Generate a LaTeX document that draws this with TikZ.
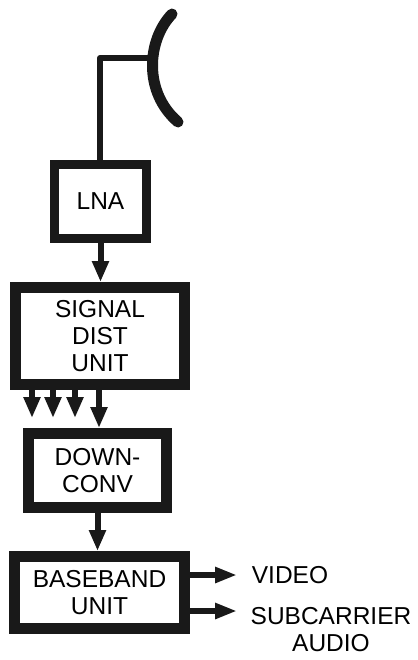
\documentclass[tikz,border=0pt]{standalone}
\usepackage{fontspec}
\setmainfont{Liberation Sans}
\usetikzlibrary{positioning, arrows.meta}

\begin{document}
\begin{tikzpicture}[
    x=1pt, y=-1pt,
    every node/.style={font=\fontsize{24.5}{27}\selectfont, align=center, inner sep=0pt},
    unit/.style={draw=black!90, line width=11pt, minimum width=#1},
    sig/.style={draw=black!90, line width=6pt, -{Triangle[length=21pt, width=16pt]}},
    outsig/.style={draw=black!90, line width=6pt, -{Triangle[length=22pt, width=15pt]}},
]
\useasboundingbox (0,0) rectangle (417,660);

% blocks
\node[unit=92pt, line width=9pt, minimum height=74pt] (lna) at (100.5,201.5) {LNA};
\node[unit=169pt, minimum height=97pt, below=39pt of lna, xshift=-0.5pt] (signal) {SIGNAL\\DIST\\UNIT};
\node[unit=138pt, minimum height=74pt, below=38pt of signal, xshift=-2.5pt] (down) {DOWN-\\CONV};
\node[unit=170pt, minimum height=72pt, below=38pt of down, xshift=2pt] (base) {BASEBAND\\UNIT};

% outputs
\node (video) at (290,575) {VIDEO};
\node (sub) at (331,630) {SUBCARRIER\\AUDIO};

% antenna
\coordinate (dishtop) at (172,14);
\coordinate (dishbot) at (178,122);
\coordinate (feed) at (150,58);
\coordinate (lnain) at (100,160);
\draw[line width=11pt, line cap=round, draw=black!90] (dishtop) .. controls (147,40) and (143,92) .. (dishbot);
\draw[line width=6pt, draw=black!90, line join=round] (lnain) -- (100,58) -- (feed);

% arrows
\draw[sig] (lna.south) -- (lna.south |- signal.north);
\draw[sig] (signal.south -| 99,0) -- (down.north -| 99,0);
\foreach \x/\name in {32/a, 53/b, 75/c} {
    \coordinate (tip\name) at (\x,418);
    \draw[sig] (signal.south -| tip\name) -- (tip\name);
}
\draw[sig] (down.south) -- (down.south |- base.north);

\coordinate (vidend) at (237,575);
\coordinate (subend) at (237,611);
\draw[outsig] (base.east |- vidend) -- (vidend);
\draw[outsig] (base.east |- subend) -- (subend);
\end{tikzpicture}
\end{document}
